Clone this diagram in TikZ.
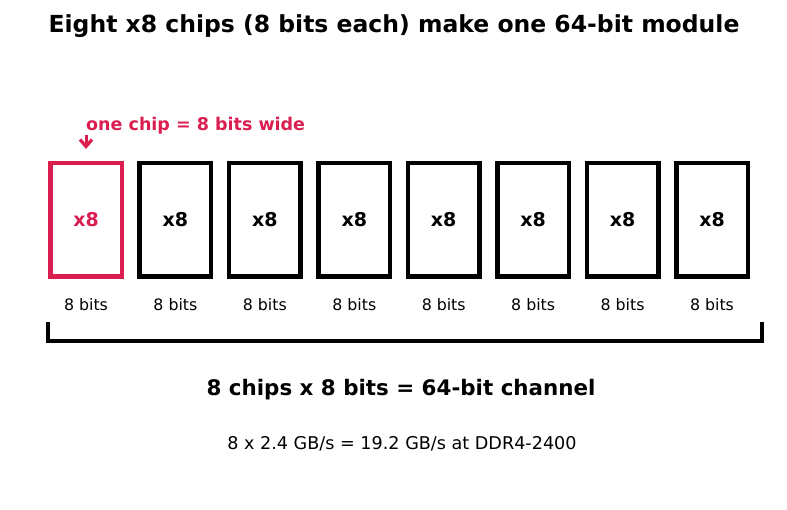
\documentclass[tikz,border=0pt]{standalone}
\usepackage{fontspec}
\setmainfont{DejaVu Sans}
\usetikzlibrary{arrows.meta}
\definecolor{hl}{RGB}{218,30,80}
\begin{document}
\begin{tikzpicture}[x=1pt,y=-1pt,
  chipbox/.style={draw=black,line width=4.5pt,minimum width=71.5pt,minimum height=113.5pt,inner sep=0pt,font=\fontsize{19}{21}\selectfont\bfseries},
  bitlbl/.style={font=\fontsize{15.8}{18}\selectfont},
  bracketline/.style={line width=4.5pt},
]
\useasboundingbox (0,0) rectangle (787,510);
\node[font=\fontsize{23.5}{26}\selectfont\bfseries] (title) at (394,26.5) {Eight x8 chips (8 bits each) make one 64-bit module};
\node[chipbox,draw=hl,text=hl] (c1) at (86,220) {x8};
\node[bitlbl] (b1) at (86,305) {8 bits};
\foreach \i in {2,...,8}{
  \pgfmathsetmacro{\cx}{86+(\i-1)*89.43}
  \node[chipbox] (c\i) at (\cx,220) {x8};
  \node[bitlbl] (b\i) at (\cx,305) {8 bits};
}
\node[font=\fontsize{17.5}{20}\selectfont\bfseries,text=hl,anchor=west,inner sep=0pt] (note) at (86,126) {one chip = 8 bits wide};
\coordinate (astart) at (86,135);
\draw[hl,line width=3pt,-{Straight Barb[length=7pt,width=12pt,line width=3.2pt]}] (astart) -- (c1.north |- 0,149);
\coordinate (bl) at (48,322);
\coordinate (br) at (762,322);
\draw[bracketline] (bl) -- (48,341) -- (762,341) -- (br);
\node[font=\fontsize{21.4}{24}\selectfont\bfseries] (sum) at (401,390) {8 chips x 8 bits = 64-bit channel};
\node[font=\fontsize{17.6}{20}\selectfont] (bw) at (402,443.5) {8 x 2.4 GB/s = 19.2 GB/s at DDR4-2400};
\end{tikzpicture}
\end{document}
